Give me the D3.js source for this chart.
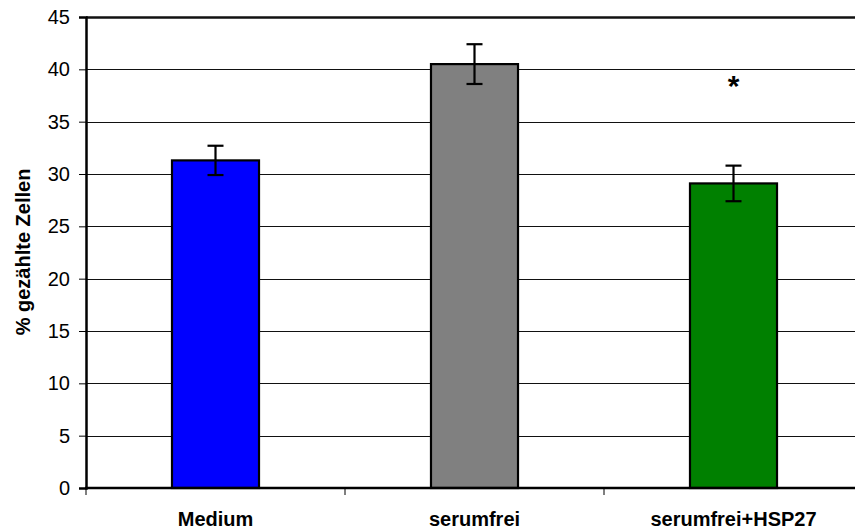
<!DOCTYPE html>
<html>
<head>
<meta charset="utf-8">
<script src="https://cdn.jsdelivr.net/npm/d3@7"></script>
<style>
  html, body { margin: 0; padding: 0; background: #fff; }
  svg { display: block; font-family: "Liberation Sans", Arial, sans-serif; }
</style>
</head>
<body>
<svg id="chart" width="855" height="532"></svg>
<script>
// Kategorien, Mittelwerte und Standardfehler
const categories = ["Medium", "serumfrei", "serumfrei+HSP27"];
const values = [31.3, 40.5, 29.1];
const errors = [1.4, 1.9, 1.7];
const barColors = ["#0000FF", "#808080", "#008000"];
const yTicks = [0, 5, 10, 15, 20, 25, 30, 35, 40, 45];
const significance = ["", "", "*"];

const svg = d3.select("#chart");
const plotLeft = 86, plotRight = 863, plotTop = 17, plotBottom = 488;

const x = d3.scaleBand().domain(categories).range([plotLeft, plotRight]).padding(0);
const y = d3.scaleLinear().domain([0, 45]).range([plotBottom, plotTop]);
const barW = x.bandwidth() * 0.336;

// Gitterlinien
svg.append("g")
  .selectAll("line")
  .data(yTicks.slice(1))
  .join("line")
  .attr("x1", plotLeft).attr("x2", plotRight)
  .attr("y1", d => Math.round(y(d)) + 0.5)
  .attr("y2", d => Math.round(y(d)) + 0.5)
  .attr("stroke", "#111")
  .attr("stroke-width", d => d === 45 ? 2.5 : 1);

// Balken
svg.append("g")
  .selectAll("rect")
  .data(categories)
  .join("rect")
  .attr("x", d => x(d) + (x.bandwidth() - barW) / 2)
  .attr("width", barW)
  .attr("y", (d, i) => y(values[i]))
  .attr("height", (d, i) => plotBottom - y(values[i]))
  .attr("fill", (d, i) => barColors[i])
  .attr("stroke", "#000")
  .attr("stroke-width", 2.2);

// Fehlerbalken
const eb = svg.append("g").attr("stroke", "#000").attr("stroke-width", 2.2);
categories.forEach((c, i) => {
  const cx = x(c) + x.bandwidth() / 2;
  const y1 = y(values[i] + errors[i]);
  const y2 = y(values[i] - errors[i]);
  eb.append("line").attr("x1", cx).attr("x2", cx).attr("y1", y1).attr("y2", y2);
  eb.append("line").attr("x1", cx - 8).attr("x2", cx + 8).attr("y1", y1).attr("y2", y1);
  eb.append("line").attr("x1", cx - 8).attr("x2", cx + 8).attr("y1", y2).attr("y2", y2);
});

// Signifikanz-Markierung
svg.append("g")
  .selectAll("text")
  .data(categories)
  .join("text")
  .attr("x", d => x(d) + x.bandwidth() / 2)
  .attr("y", 96)
  .attr("text-anchor", "middle")
  .attr("font-size", 30)
  .attr("font-weight", "bold")
  .text((d, i) => significance[i]);

// y-Achse
const yAxis = svg.append("g")
  .attr("transform", `translate(${plotLeft},0)`)
  .call(d3.axisLeft(y).tickValues(yTicks).tickSize(7).tickPadding(9));
yAxis.select(".domain").attr("stroke-width", 2.5);
yAxis.selectAll(".tick line").attr("stroke-width", 1);
yAxis.selectAll(".tick text")
  .attr("font-size", 20)
  .attr("font-family", "Liberation Sans, Arial, sans-serif")
  .attr("fill", "#000");

// x-Achse mit Teilstrichen an den Kategoriegrenzen
const boundaries = categories.map(c => x(c)).concat([plotRight]);
svg.append("g")
  .selectAll("line")
  .data(boundaries)
  .join("line")
  .attr("x1", d => d).attr("x2", d => d)
  .attr("y1", plotBottom).attr("y2", plotBottom + 7)
  .attr("stroke", "#000").attr("stroke-width", 1);
svg.append("line")
  .attr("x1", plotLeft - 1).attr("x2", plotRight)
  .attr("y1", plotBottom).attr("y2", plotBottom)
  .attr("stroke", "#000").attr("stroke-width", 2.5);

svg.append("g")
  .selectAll("text")
  .data(categories)
  .join("text")
  .attr("x", d => x(d) + x.bandwidth() / 2)
  .attr("y", 526)
  .attr("text-anchor", "middle")
  .attr("font-size", 20)
  .attr("font-weight", "bold")
  .text(d => d);

// Achsentitel
svg.append("text")
  .attr("transform", "translate(30,252) rotate(-90)")
  .attr("text-anchor", "middle")
  .attr("font-size", 20)
  .attr("font-weight", "bold")
  .text("% gezählte Zellen");
</script>
</body>
</html>
